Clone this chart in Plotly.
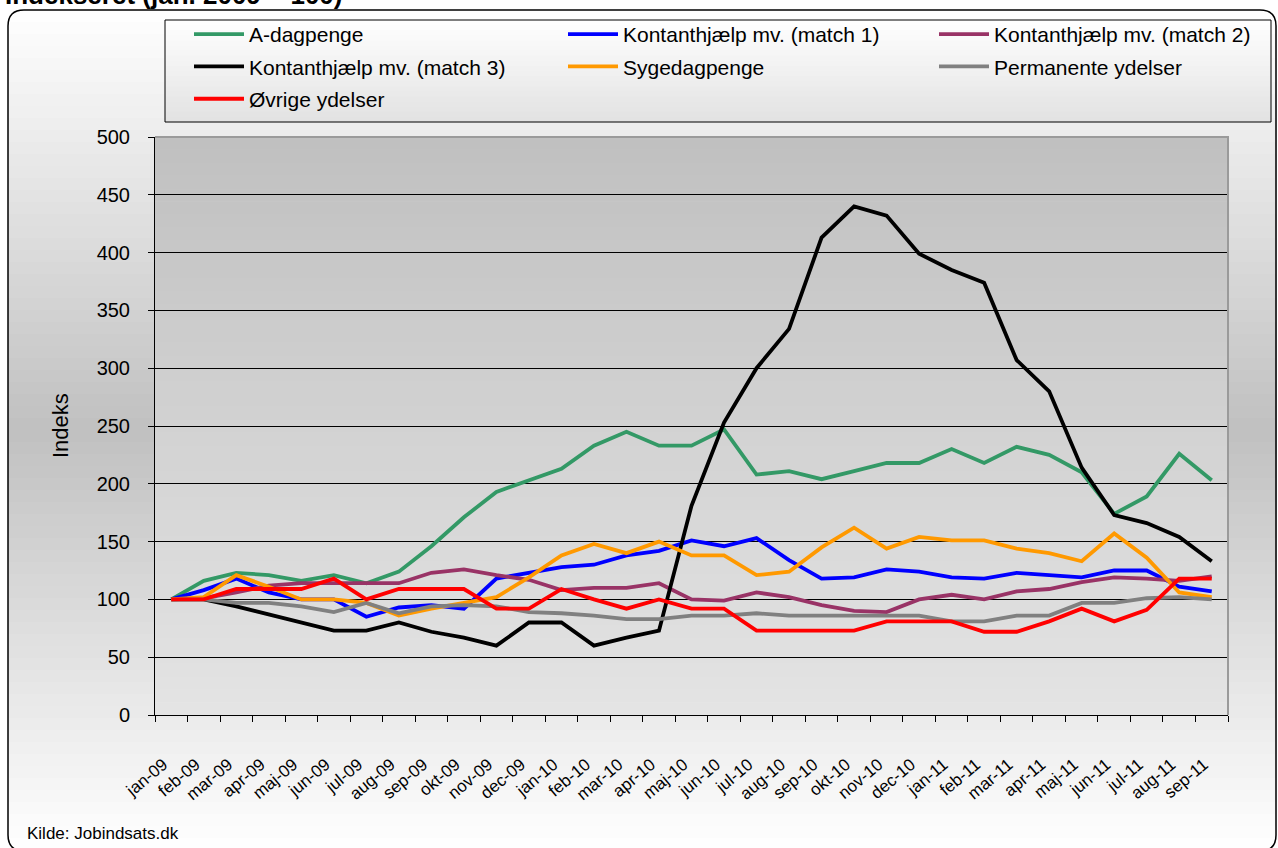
import plotly.graph_objects as go

# ---------------- data ----------------
months = ["jan-09", "feb-09", "mar-09", "apr-09", "maj-09", "jun-09", "jul-09", "aug-09",
          "sep-09", "okt-09", "nov-09", "dec-09", "jan-10", "feb-10", "mar-10", "apr-10",
          "maj-10", "jun-10", "jul-10", "aug-10", "sep-10", "okt-10", "nov-10", "dec-10",
          "jan-11", "feb-11", "mar-11", "apr-11", "maj-11", "jun-11", "jul-11", "aug-11",
          "sep-11"]

a_dagpenge = [100, 116, 123, 121, 116, 121, 114, 124, 146, 171, 193, 203, 213, 233, 245, 233,
              233, 247, 208, 211, 204, 211, 218, 218, 230, 218, 232, 225, 210, 174, 189, 226, 203]
match1 = [100, 108, 118, 106, 100, 100, 85, 93, 95, 92, 118, 123, 128, 130, 138, 142,
          151, 146, 153, 134, 118, 119, 126, 124, 119, 118, 123, 121, 119, 125, 125, 111, 107]
match2 = [100, 101, 106, 112, 114, 114, 114, 114, 123, 126, 121, 117, 108, 110, 110, 114,
          100, 99, 106, 102, 95, 90, 89, 100, 104, 100, 107, 109, 115, 119, 118, 116, 120]
match3 = [100, 100, 94, 87, 80, 73, 73, 80, 72, 67, 60, 80, 80, 60, 67, 73,
          181, 253, 300, 334, 413, 440, 432, 399, 385, 374, 307, 280, 214, 173, 166, 154, 133]
sygedagpenge = [100, 102, 121, 111, 100, 100, 97, 86, 92, 97, 102, 119, 138, 148, 140, 150,
                138, 138, 121, 124, 145, 162, 144, 154, 151, 151, 144, 140, 133, 157, 136, 106, 102]
permanente = [100, 100, 97, 97, 94, 89, 97, 88, 94, 95, 94, 89, 88, 86, 83, 83,
              86, 86, 88, 86, 86, 86, 86, 86, 81, 81, 86, 86, 97, 97, 101, 102, 100]
oevrige = [100, 100, 109, 109, 109, 118, 100, 109, 109, 109, 92, 92, 109, 100, 92, 100,
           92, 92, 73, 73, 73, 73, 81, 81, 81, 72, 72, 81, 92, 81, 91, 118, 118]

y_ticks = [0, 50, 100, 150, 200, 250, 300, 350, 400, 450, 500]

series = [
    ("A-dagpenge", a_dagpenge, "#339966", "legend"),
    ("Kontanthjælp mv. (match 1)", match1, "#0000FF", "legend2"),
    ("Kontanthjælp mv. (match 2)", match2, "#993366", "legend3"),
    ("Kontanthjælp mv. (match 3)", match3, "#000000", "legend"),
    ("Sygedagpenge", sygedagpenge, "#FF9900", "legend2"),
    ("Permanente ydelser", permanente, "#808080", "legend3"),
    ("Øvrige ydelser", oevrige, "#FF0000", "legend"),
]

# ---------------- geometry helpers ----------------
W, H = 1278, 848
L, R, T, B = 155, 50, 137, 133
PW = W - L - R
PH = H - T - B


def px(x):
    return (x - L) / PW


def py(y):
    return (H - B - y) / PH


FONT = "Liberation Sans, Arial, sans-serif"

fig = go.Figure()
for i, (name, vals, col, lg) in enumerate(series):
    fig.add_trace(go.Scatter(
        x=months, y=vals, name=name, mode="lines",
        line=dict(color=col, width=3.8),
        legend=lg, legendgroup="g%d" % i,
    ))

shapes = []


def grey(v):
    v = int(round(max(0, min(255, v))))
    return "rgb(%d,%d,%d)" % (v, v, v)


# outer chart-area gradient (light - grey - light)
N = 70
top, bot = 10, 850
for k in range(N):
    y0 = top + (bot - top) * k / N
    y1 = top + (bot - top) * (k + 1) / N + 0.5
    ym = (y0 + y1) / 2
    if ym < 430:
        v = 255 - 63 * (ym - top) / (430 - top)
    else:
        v = 192 + 63 * (ym - 430) / (bot - 430)
    shapes.append(dict(type="rect", xref="paper", yref="paper", layer="below",
                       x0=px(8), x1=px(1277), y0=py(y0), y1=py(y1),
                       line=dict(width=0), fillcolor=grey(v)))

# plot-area gradient
N2 = 45
for k in range(N2):
    y0 = 137 + (715 - 137) * k / N2
    y1 = 137 + (715 - 137) * (k + 1) / N2 + 0.5
    ym = (y0 + y1) / 2
    v = 192 + (228 - 192) * (ym - 137) / (715 - 137)
    shapes.append(dict(type="rect", xref="paper", yref="paper", layer="below",
                       x0=0, x1=1, y0=py(y0), y1=py(min(y1, 715)),
                       line=dict(width=0), fillcolor=grey(v)))

# legend box gradient
lx0, lx1, ly0, ly1 = 165, 1271, 20, 122
N3 = 20
for k in range(N3):
    y0 = ly0 + (ly1 - ly0) * k / N3
    y1 = ly0 + (ly1 - ly0) * (k + 1) / N3 + 0.5
    ym = (y0 + y1) / 2
    v = 255 - (255 - 226) * (ym - ly0) / (ly1 - ly0)
    shapes.append(dict(type="rect", xref="paper", yref="paper", layer="below",
                       x0=px(lx0), x1=px(lx1), y0=py(y0), y1=py(min(y1, ly1)),
                       line=dict(width=0), fillcolor=grey(v)))
shapes.append(dict(type="rect", xref="paper", yref="paper", layer="above",
                   x0=px(lx0), x1=px(lx1), y0=py(ly0), y1=py(ly1),
                   line=dict(width=1, color="#000000"), fillcolor="rgba(0,0,0,0)"))

# plot area top/right border (grey)
shapes.append(dict(type="path", xref="paper", yref="paper", layer="above",
                   path="M %f,%f L %f,%f L %f,%f" % (px(155), py(137), px(1228), py(137), px(1228), py(715)),
                   line=dict(width=2, color="#9A9A9A")))

# rounded outer border
r = 16
x0b, x1b, y0b, y1b = 8, 1276, 10, 851


def P(x, y):
    return "%f,%f" % (px(x), py(y))


path = ("M " + P(x0b + r, y0b) + " L " + P(x1b - r, y0b) +
        " Q " + P(x1b, y0b) + " " + P(x1b, y0b + r) +
        " L " + P(x1b, y1b - r) + " Q " + P(x1b, y1b) + " " + P(x1b - r, y1b) +
        " L " + P(x0b + r, y1b) + " Q " + P(x0b, y1b) + " " + P(x0b, y1b - r) +
        " L " + P(x0b, y0b + r) + " Q " + P(x0b, y0b) + " " + P(x0b + r, y0b) + " Z")
shapes.append(dict(type="path", xref="paper", yref="paper", layer="above", path=path,
                   line=dict(width=1.5, color="#000000"), fillcolor="rgba(0,0,0,0)"))

annotations = [
    dict(text="<b>Indekseret (jan. 2009 = 100)</b>", xref="paper", yref="paper",
         x=px(3), y=py(12), xanchor="left", yanchor="bottom", showarrow=False,
         font=dict(family=FONT, size=26, color="#000000")),
    dict(text="Indeks", xref="paper", yref="paper", x=px(60), y=py(426),
         xanchor="center", yanchor="middle", textangle=-90, showarrow=False,
         font=dict(family=FONT, size=22, color="#000000")),
    dict(text="Kilde: Jobindsats.dk", xref="paper", yref="paper", x=px(25), y=py(833),
         xanchor="left", yanchor="middle", showarrow=False,
         font=dict(family=FONT, size=17, color="#000000")),
]

leg_common = dict(orientation="v", bgcolor="rgba(0,0,0,0)", borderwidth=0,
                  font=dict(family=FONT, size=21, color="#000000"),
                  xanchor="left", yanchor="top", tracegroupgap=2, itemwidth=50,
                  y=py(14))

fig.update_layout(
    width=W, height=H,
    margin=dict(l=L, r=R, t=T, b=B, autoexpand=False),
    paper_bgcolor="#FFFFFF", plot_bgcolor="rgba(0,0,0,0)",
    showlegend=True,
    legend=dict(x=px(189), **leg_common),
    legend2=dict(x=px(563), **leg_common),
    legend3=dict(x=px(934), **leg_common),
    shapes=shapes, annotations=annotations,
    xaxis=dict(type="category", range=[-0.5, len(months) - 0.5], tickson="boundaries",
               ticks="outside", ticklen=6, tickcolor="#000000", tickwidth=1,
               showline=True, linecolor="#000000", linewidth=1, showgrid=False,
               tickangle=-40, tickfont=dict(family=FONT, size=17, color="#000000"),
               ticklabelstandoff=32, ticklabelshift=-8, zeroline=False),
    yaxis=dict(range=[0, 500], tickvals=y_ticks, ticks="outside", ticklen=6,
               tickcolor="#000000", tickwidth=1, showline=True, linecolor="#000000",
               linewidth=1, showgrid=True, gridcolor="#000000", gridwidth=1,
               zeroline=False, tickfont=dict(family=FONT, size=20, color="#000000"),
               ticklabelstandoff=14),
)

fig.write_html("out.html", config={"displayModeBar": False},
               post_script="document.body.style.margin='0px';document.body.style.overflow='hidden';")
